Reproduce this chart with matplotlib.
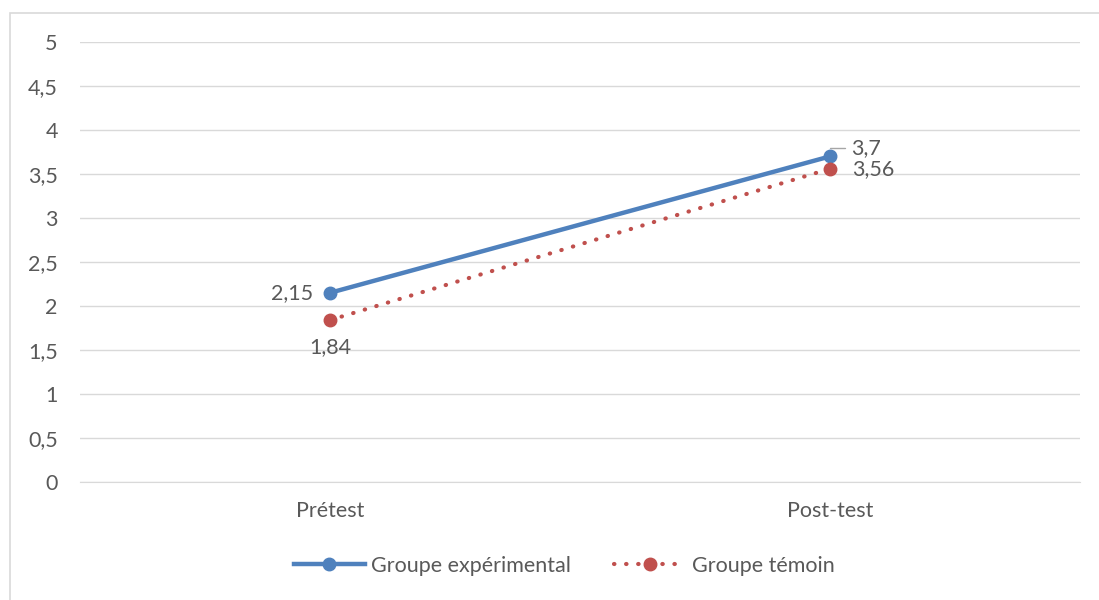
import matplotlib.pyplot as plt
from matplotlib.patches import Rectangle
from matplotlib.ticker import FuncFormatter
from matplotlib.lines import Line2D

# data
categories = ["Prétest", "Post-test"]
experimental = [2.15, 3.7]
temoin = [1.84, 3.56]
series_names = ["Groupe expérimental", "Groupe témoin"]

BLUE = "#4F81BD"
RED = "#C0504D"
GREY_TXT = "#595959"
GRID = "#D9D9D9"
FS = 15.5
DOTS = (0, (0.1, 2.8))

plt.rcParams["font.family"] = ["Lato", "DejaVu Sans"]

fig = plt.figure(figsize=(10.99, 6), dpi=100)
ax = fig.add_axes([80 / 1099, 1 - 482 / 600, 1000 / 1099, 440 / 600])

# chart border
fig.patches.append(Rectangle((10 / 1099, -0.01), 1.1, 1 - 13 / 600 + 0.01,
                             transform=fig.transFigure, fill=False,
                             edgecolor=GRID, linewidth=1.2))

x = list(range(len(categories)))
ax.plot(x, experimental, color=BLUE, linewidth=3.2, marker="o",
        markersize=9, solid_capstyle="round", zorder=3)
ax.plot(x, temoin, color=RED, linewidth=3, linestyle=DOTS,
        dash_capstyle="round", marker="o", markersize=9, zorder=3)

ax.set_xlim(-0.5, 1.5)
ax.set_ylim(0, 5)
ax.set_yticks([i * 0.5 for i in range(11)])
ax.yaxis.set_major_formatter(FuncFormatter(
    lambda v, p: ("%g" % v).replace(".", ",")))
ax.set_xticks(x)
ax.set_xticklabels(categories)
ax.grid(axis="y", color=GRID, linewidth=1)
ax.set_axisbelow(True)
for s in ["top", "right", "left"]:
    ax.spines[s].set_visible(False)
ax.spines["bottom"].set_color(GRID)
ax.tick_params(axis="both", length=0, colors=GREY_TXT, labelsize=FS)
ax.tick_params(axis="y", pad=16)
ax.tick_params(axis="x", pad=14)

# data labels
fmt = lambda v: ("%g" % v).replace(".", ",")
ax.annotate(fmt(experimental[0]), (0, experimental[0]), xytext=(-12, 0),
            textcoords="offset points", ha="right", va="center",
            fontsize=FS, color=GREY_TXT)
ax.annotate(fmt(temoin[0]), (0, temoin[0]), xytext=(0, -12),
            textcoords="offset points", ha="center", va="top",
            fontsize=FS, color=GREY_TXT)
ax.annotate(fmt(experimental[1]), (1, experimental[1]), xytext=(15, 6),
            textcoords="offset points", ha="left", va="center",
            fontsize=FS, color=GREY_TXT,
            arrowprops=dict(arrowstyle="-", color="#A6A6A6", lw=1,
                            connectionstyle="angle,angleA=0,angleB=90,rad=0",
                            shrinkA=2, shrinkB=6))
ax.annotate(fmt(temoin[1]), (1, temoin[1]), xytext=(16, 0),
            textcoords="offset points", ha="left", va="center",
            fontsize=FS, color=GREY_TXT)

handles = [
    Line2D([], [], color=BLUE, linewidth=3.2, marker="o", markersize=9),
    Line2D([], [], color=RED, linewidth=3, linestyle=DOTS,
           dash_capstyle="round", marker="o", markersize=9),
]
fig.legend(handles, series_names, loc="center", bbox_to_anchor=(564 / 1099, 1 - 566 / 600),
           ncol=2, frameon=False, fontsize=FS, labelcolor=GREY_TXT,
           handlelength=3.3, columnspacing=2.0, handletextpad=0.3)

fig.savefig("out.png", dpi=100)
